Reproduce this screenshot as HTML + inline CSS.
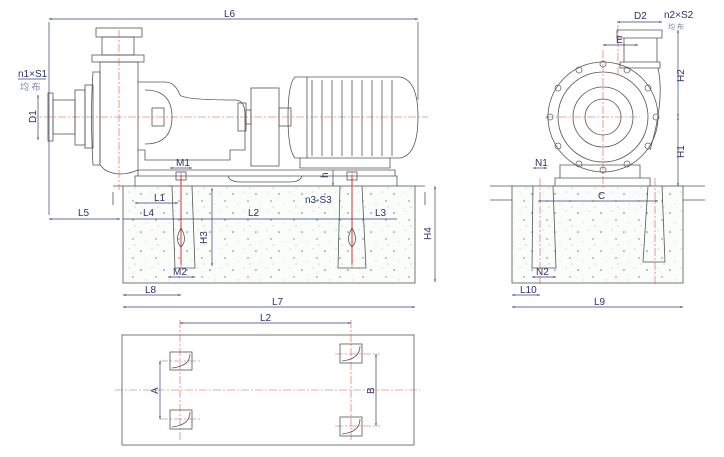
<!DOCTYPE html>
<html><head><meta charset="utf-8"><style>
html,body{margin:0;padding:0;background:#fff;}
svg{display:block;font-family:"Liberation Sans","Noto Sans CJK SC",sans-serif;}
.o{fill:none;stroke:#555;stroke-width:0.8}
.d{stroke:#3a3f7a;stroke-width:0.7;fill:none}
.c{stroke:#e05555;stroke-width:0.6;stroke-dasharray:8 2 2 2;fill:none}
.t{fill:#2c3170;font-size:10px}
</style></head><body>
<svg width="724" height="457" viewBox="0 0 724 457" xmlns="http://www.w3.org/2000/svg">
<defs>
<pattern id="cc" width="23" height="19" patternUnits="userSpaceOnUse">
<rect width="23" height="19" fill="#fbfdfb"/>
<circle cx="3" cy="4" r="0.8" fill="#3a9a5a"/><circle cx="14" cy="2" r="0.5" fill="#8bc"/>
<circle cx="18" cy="11" r="0.7" fill="#3a9a5a"/><circle cx="8" cy="14" r="0.5" fill="#9cd"/>
<circle cx="20" cy="17" r="0.5" fill="#5a9"/>
</pattern>
<marker id="a" viewBox="0 0 10 10" refX="10" refY="5" markerWidth="6" markerHeight="4" orient="auto-start-reverse"><path d="M0,2 L10,5 L0,8z" fill="#3a3f7a"/></marker>
</defs>

<!-- LEFT VIEW concrete -->
<rect x="123" y="186" width="292" height="97" fill="url(#cc)" stroke="#555" stroke-width="0.8"/>
<path class="o" d="M168 186 L172 186 L175 268 L195 268 L192 186"/>
<path class="o" d="M340 186 L338 268 L366 268 L362 186"/>
<path class="o" d="M113 186 L123 186 M113 192 V205 M415 186 H425 M425 192 V205"/>
<!-- baseplate -->
<path class="o" d="M135 186 V176 H397 V186 M138 176 V170 H395 V176 M228 176 Q230 182 240 182 H290 Q300 182 302 176"/>
<!-- pump -->
<rect class="o" x="48" y="93" width="5" height="48"/>
<rect class="o" x="53" y="100" width="22" height="34"/>
<rect class="o" x="75" y="90" width="10" height="55"/>
<rect class="o" x="85" y="85" width="8" height="63"/>
<path class="o" d="M93 72 Q90 117 93 165 L100 165 V72 Z"/>
<path class="o" d="M100 62 H138 V170 Q120 178 105 170 L100 165 Z"/>
<rect class="o" x="92" y="55" width="52" height="7"/>
<rect class="o" x="102" y="37" width="32" height="18"/>
<rect class="o" x="96" y="28" width="46" height="9"/>
<path class="o" d="M138 82 H165 Q175 82 180 95 Q185 100 235 100 Q245 100 245 115 V150 H230 V160 H145 V150 H138"/>
<path class="o" d="M145 90 Q172 90 172 117 Q172 144 145 144"/>
<rect class="o" x="152" y="108" width="12" height="18"/>
<rect class="o" x="238" y="103" width="8" height="28"/>
<rect class="o" x="246" y="110" width="5" height="14"/>
<rect class="o" x="251" y="88" width="28" height="78"/>
<rect class="o" x="279" y="108" width="12" height="18"/>
<path class="o" d="M295 77 H400 Q418 80 418 117 Q418 155 400 158 H295 Q288 150 288 117 Q288 84 295 77 Z"/>
<path class="o" d="M307 77 V158 M312 80 V156 M322 80 V156 M332 80 V156 M342 80 V156 M352 80 V156 M362 80 V156 M372 80 V156 M382 80 V156 M392 80 V156 M300 158 V168 H390 V158"/>
<path class="c" d="M30 117 H428 M119 30 V190 M181 172 V270 M352 172 V270"/>
<path d="M181 175 V265 M352 175 V265" stroke="#e05555" stroke-width="1.2"/>
<path class="o" stroke="#d66" d="M181 228 Q174 240 181 247 Q188 240 181 228 M352 228 Q345 240 352 247 Q359 240 352 228"/>
<rect class="o" x="176" y="172" width="10" height="8"/><rect class="o" x="347" y="172" width="10" height="8"/>
<!-- left dims -->
<path class="d" d="M49 22 V215 M418 22 V100" stroke-width="0.4"/>
<line class="d" x1="49" y1="19" x2="418" y2="19" marker-start="url(#a)" marker-end="url(#a)"/>
<text class="t" x="224" y="17">L6</text>
<line class="d" x1="49" y1="219" x2="120" y2="219" marker-start="url(#a)" marker-end="url(#a)"/>
<text class="t" x="78" y="216">L5</text>
<line class="d" x1="123" y1="219" x2="397" y2="219"/>
<text class="t" x="143" y="216">L4</text><text class="t" x="248" y="216">L2</text><text class="t" x="375" y="216">L3</text>
<line class="d" x1="135" y1="203" x2="178" y2="203" marker-start="url(#a)" marker-end="url(#a)"/>
<text class="t" x="154" y="201">L1</text>
<text class="t" x="305" y="203">n3-S3</text>
<line class="d" x1="170" y1="168" x2="192" y2="168" marker-start="url(#a)" marker-end="url(#a)"/>
<text class="t" x="176" y="166">M1</text>
<line class="d" x1="168" y1="277" x2="195" y2="277" marker-start="url(#a)" marker-end="url(#a)"/>
<text class="t" x="173" y="275">M2</text>
<line class="d" x1="212" y1="188" x2="212" y2="266" marker-start="url(#a)" marker-end="url(#a)"/>
<text class="t" transform="translate(207,244) rotate(-90)">H3</text>
<line class="d" x1="333" y1="170" x2="333" y2="186" marker-end="url(#a)"/>
<text class="t" transform="translate(328,178) rotate(-90)" font-size="8">h</text>
<line class="d" x1="435" y1="186" x2="435" y2="282" marker-start="url(#a)" marker-end="url(#a)"/>
<text class="t" transform="translate(431,240) rotate(-90)">H4</text>
<line class="d" x1="123" y1="295" x2="181" y2="295" marker-start="url(#a)" marker-end="url(#a)"/>
<text class="t" x="145" y="293">L8</text>
<line class="d" x1="123" y1="307" x2="415" y2="307" marker-start="url(#a)" marker-end="url(#a)"/>
<text class="t" x="272" y="305">L7</text>
<line class="d" x1="38" y1="95" x2="38" y2="140" marker-start="url(#a)" marker-end="url(#a)"/>
<text class="t" transform="translate(36,123) rotate(-90)">D1</text>
<text class="t" x="18" y="77">n1×S1</text>
<line class="d" x1="18" y1="79" x2="46" y2="79"/>
<text x="20" y="90" font-size="9" fill="#7a7fb0">均 布</text>

<!-- RIGHT VIEW -->
<rect x="512" y="186" width="171" height="97" fill="url(#cc)" stroke="#555" stroke-width="0.8"/>
<path class="o" d="M490 186 H512 M490 200 H512 M683 186 H705 M683 200 H705 M533 186 L532 268 L556 268 L553 186 M648 186 L643 262 L665 262 L662 186"/>
<path class="o" d="M555 186 V178 H650 V186 M560 178 V165 H640 V178"/>
<circle class="o" cx="603" cy="117" r="55"/>
<circle class="o" cx="603" cy="117" r="45"/>
<circle class="o" cx="603" cy="117" r="30"/>
<circle class="o" cx="603" cy="117" r="18"/>
<path class="o" d="M620 62 H660 V68 H620 Z M624 38 H657 V62 H624 Z M617 30 H662 V38 H617 Z M658 68 Q665 100 650 150"/>
<g fill="none" stroke="#666" stroke-width="0.8">
<circle cx="603" cy="64" r="3"/><circle cx="627" cy="70" r="3"/><circle cx="648" cy="88" r="3"/><circle cx="656" cy="117" r="3"/><circle cx="648" cy="146" r="3"/><circle cx="627" cy="164" r="3"/><circle cx="603" cy="170" r="3"/><circle cx="579" cy="164" r="3"/><circle cx="558" cy="146" r="3"/><circle cx="550" cy="117" r="3"/><circle cx="558" cy="88" r="3"/><circle cx="579" cy="70" r="3"/>
</g>
<path class="c" d="M545 117 H640 M603 50 V190 M618 25 V75 M540 178 V285 M655 178 V285"/>
<line class="d" x1="617" y1="22" x2="662" y2="22" marker-start="url(#a)" marker-end="url(#a)"/>
<text class="t" x="634" y="19">D2</text>
<text class="t" x="664" y="18">n2×S2</text>
<text x="668" y="29" font-size="7" fill="#7a7fb0">均 布</text>
<line class="d" x1="603" y1="45" x2="638" y2="45" marker-start="url(#a)" marker-end="url(#a)"/>
<text class="t" x="616" y="43">E</text>
<line class="d" x1="678" y1="30" x2="678" y2="117" marker-start="url(#a)" marker-end="url(#a)"/>
<text class="t" transform="translate(684,82) rotate(-90)">H2</text>
<line class="d" x1="678" y1="117" x2="678" y2="186" marker-start="url(#a)" marker-end="url(#a)"/>
<text class="t" transform="translate(684,158) rotate(-90)">H1</text>
<line class="d" x1="533" y1="168" x2="547" y2="168" marker-start="url(#a)" marker-end="url(#a)"/>
<text class="t" x="535" y="166">N1</text>
<line class="d" x1="538" y1="201" x2="658" y2="201" marker-start="url(#a)" marker-end="url(#a)"/>
<text class="t" x="598" y="199">C</text>
<line class="d" x1="532" y1="277" x2="556" y2="277" marker-start="url(#a)" marker-end="url(#a)"/>
<text class="t" x="536" y="275">N2</text>
<line class="d" x1="512" y1="295" x2="540" y2="295" marker-start="url(#a)" marker-end="url(#a)"/>
<text class="t" x="520" y="293">L10</text>
<line class="d" x1="512" y1="307" x2="683" y2="307" marker-start="url(#a)" marker-end="url(#a)"/>
<text class="t" x="594" y="305">L9</text>

<!-- PLAN VIEW -->
<rect class="o" x="122" y="335" width="292" height="110"/>
<path class="c" d="M115 390 H420 M180 320 V442 M351 320 V442 M160 361 H200 M160 419 H200 M335 354 H380 M335 426 H380"/>
<g class="o"><rect x="170" y="352" width="22" height="18"/><rect x="170" y="410" width="22" height="19"/><rect x="340" y="344" width="22" height="19"/><rect x="340" y="417" width="22" height="19"/>
<path d="M172 368 Q190 366 190 354 M172 427 Q190 425 190 412 M342 361 Q360 359 360 346 M342 434 Q360 432 360 419"/></g>
<line class="d" x1="180" y1="323" x2="351" y2="323" marker-start="url(#a)" marker-end="url(#a)"/>
<text class="t" x="260" y="321">L2</text>
<line class="d" x1="160" y1="361" x2="160" y2="419" marker-start="url(#a)" marker-end="url(#a)"/>
<text class="t" transform="translate(158,394) rotate(-90)">A</text>
<line class="d" x1="376" y1="354" x2="376" y2="426" marker-start="url(#a)" marker-end="url(#a)"/>
<text class="t" transform="translate(374,394) rotate(-90)">B</text>
</svg>
</body></html>
